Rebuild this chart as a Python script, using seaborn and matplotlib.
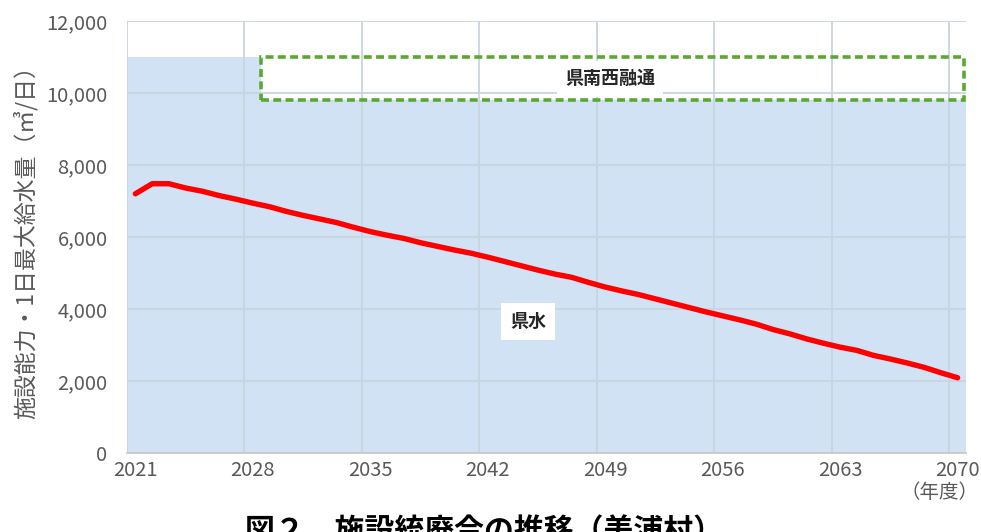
import numpy as np
import pandas as pd
import matplotlib
matplotlib.use("Agg")
import matplotlib.pyplot as plt
from matplotlib.patches import Rectangle
import seaborn as sns

# --- data -------------------------------------------------------------
years = list(range(2021, 2071))

# 1日最大給水量 (m3/日)
max_supply = [
    7200, 7480, 7480, 7360, 7270, 7150, 7050, 6940, 6840, 6710,
    6600, 6500, 6400, 6270, 6150, 6050, 5960, 5840, 5740, 5640,
    5550, 5440, 5320, 5200, 5080, 4970, 4880, 4740, 4610, 4500,
    4400, 4280, 4160, 4040, 3920, 3810, 3700, 3580, 3430, 3310,
    3170, 3050, 2940, 2850, 2710, 2610, 2500, 2380, 2230, 2090,
]

# 施設能力：県水 と 県南西融通
kensui = [11000] * 8 + [9800] * 42
kennansei = [0] * 8 + [1200] * 42

tick_years = [2021, 2028, 2035, 2042, 2049, 2056, 2063, 2070]
y_ticks = [0, 2000, 4000, 6000, 8000, 10000, 12000]

df = pd.DataFrame({"year": years, "supply": max_supply,
                   "kensui": kensui, "kennansei": kennansei})
df["idx"] = np.arange(len(df))

# --- style ------------------------------------------------------------
sns.set_theme(style="white")
plt.rcParams["font.family"] = ["Noto Sans CJK JP", "DejaVu Sans"]

TEXT = "#595959"
GRID = "#c9d4e0"
FILL = "#d1e2f4"
GREEN = "#5aa833"

fig = plt.figure(figsize=(9.81, 5.32), dpi=100)
ax = fig.add_axes([127 / 981, 79 / 532, 839 / 981, 432 / 532])

# 県水: stepped area across category cells
edges = np.append(df["idx"].to_numpy() - 0.5, df["idx"].iloc[-1] + 0.5)
levels = np.append(df["kensui"].to_numpy(), df["kensui"].iloc[-1])
ax.fill_between(edges, 0, levels, step="post", color=FILL, lw=0, zorder=0.2)

# 県南西融通: dashed frame stacked on top of 県水
sub = df[df["kennansei"] > 0]
x0 = sub["idx"].iloc[0] - 0.5
x1 = sub["idx"].iloc[-1] + 0.5
box = Rectangle((x0, sub["kensui"].iloc[0]), x1 - x0 - 0.1,
                sub["kennansei"].iloc[0], fill=False, edgecolor=GREEN,
                lw=2.6, linestyle=(0, (2.2, 1.2)), zorder=2, clip_on=False)
ax.add_patch(box)

# 1日最大給水量 line
sns.lineplot(data=df, x="idx", y="supply", ax=ax, color="#ff0000",
             lw=3.9, zorder=3, solid_capstyle="round")

# --- axes -------------------------------------------------------------
ax.set_xlim(-0.5, len(years) - 0.5)
ax.set_ylim(0, 12000)
tick_idx = [years.index(y) for y in tick_years]
ax.set_xticks(tick_idx)
ax.set_xticklabels([str(y) for y in tick_years])
ax.set_xticks([i - 0.5 for i in tick_idx], minor=True)
ax.set_yticks(y_ticks)
ax.set_yticklabels([f"{v:,}" for v in y_ticks])
ax.tick_params(axis="both", which="both", length=0, colors=TEXT,
               labelsize=14.5)
ax.tick_params(axis="x", pad=5)
ax.tick_params(axis="y", pad=14)

ax.set_axisbelow(True)
ax.grid(False)
ax.grid(axis="y", which="major", color=GRID, lw=1.3)
ax.grid(axis="x", which="minor", color=GRID, lw=1.3)

for s in ["top", "right", "left"]:
    ax.spines[s].set_visible(False)
ax.spines["bottom"].set_color("#c8c8c8")
ax.spines["bottom"].set_linewidth(1.3)

ax.set_xlabel("")
ax.set_ylabel("施設能力・1日最大給水量（㎥/日）", color=TEXT, fontsize=16.5,
              labelpad=6)

# series labels
ax.text(28.3, 10390, "県南西融通", ha="center", va="center", fontsize=13,
        fontweight="bold", color="#262626", zorder=4,
        bbox=dict(boxstyle="square,pad=0.45", fc="white", ec="none"))
ax.text(23.4, 3640, "県水", ha="center", va="center", fontsize=13,
        fontweight="bold", color="#262626", zorder=4,
        bbox=dict(boxstyle="square,pad=0.5", fc="white", ec="none"))

fig.text(940 / 981, 1 - 492 / 532, "（年度）", ha="center", va="center",
         fontsize=14, color=TEXT)
fig.text(484 / 981, -0.016, "図２　施設統廃合の推移（美浦村）", ha="center",
         va="baseline", fontsize=21.5, fontweight="bold", color="black")

fig.savefig("out.png", dpi=100)
